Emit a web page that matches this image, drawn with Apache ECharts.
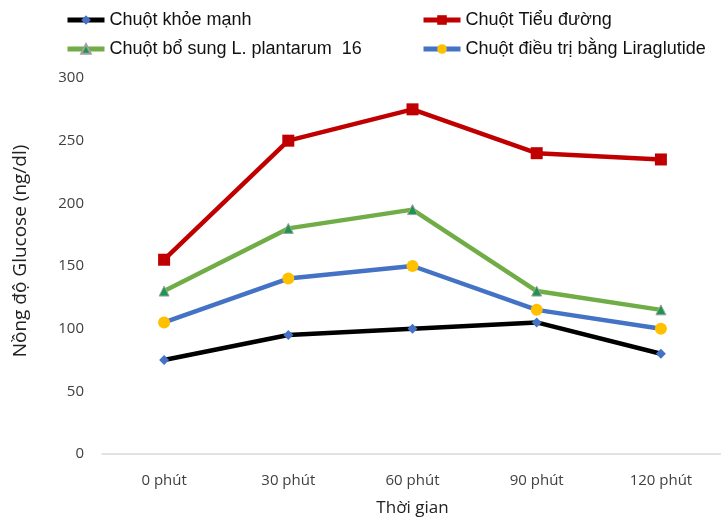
<!DOCTYPE html>
<html><head><meta charset="utf-8">
<script src="https://cdn.jsdelivr.net/npm/echarts@6/dist/echarts.min.js"></script>
<style>html,body{margin:0;padding:0;background:#fff}#c{width:721px;height:520px}</style>
</head><body><div id="c"></div>
<script>
const categories = ['0 phút', '30 phút', '60 phút', '90 phút', '120 phút'];
const healthy = [75, 95, 100, 105, 80];
const diabetic = [155, 250, 275, 240, 235];
const plantarum = [130, 180, 195, 130, 115];
const liraglutide = [105, 140, 150, 115, 100];
const yTicks = [0, 50, 100, 150, 200, 250, 300];
const names = ['Chuột khỏe mạnh', 'Chuột Tiểu đường', 'Chuột bổ sung L. plantarum  16', 'Chuột điều trị bằng Liraglutide'];

const chart = echarts.init(document.getElementById('c'));
const legendText = {fontFamily: 'Liberation Sans, Arial', fontSize: 18, color: '#111'};
function lg(name, left, top) {
  return {data: [name], left: left, top: top, itemWidth: 37, itemHeight: 12, itemGap: 0,
    textStyle: legendText, padding: 0, lineStyle: {width: 5}};
}
chart.setOption({
  animation: false,
  legend: [lg(names[0], 65, 11), lg(names[1], 421, 11), lg(names[2], 65, 40), lg(names[3], 421, 40)],
  grid: {left: 102, right: -2, top: 78, bottom: 66, outerBoundsMode: 'none', containLabel: false},
  xAxis: {
    type: 'category', data: categories, boundaryGap: true,
    axisLine: {lineStyle: {color: '#d9d9d9', width: 1.5}},
    axisTick: {show: false},
    axisLabel: {fontFamily: 'Open Sans, Liberation Sans', fontSize: 15, color: '#404040', margin: 19},
    name: 'Thời gian', nameLocation: 'middle', nameGap: 46,
    nameTextStyle: {fontFamily: 'Open Sans, Liberation Sans', fontSize: 17, color: '#222'}
  },
  yAxis: {
    type: 'value', min: yTicks[0], max: yTicks[yTicks.length - 1], interval: 50,
    axisLine: {show: false}, axisTick: {show: false}, splitLine: {show: false},
    axisLabel: {fontFamily: 'Open Sans, Liberation Sans', fontSize: 15, color: '#404040', margin: 18},
    name: 'Nồng độ Glucose (ng/dl)', nameLocation: 'middle', nameGap: 72,
    nameTextStyle: {fontFamily: 'Open Sans, Liberation Sans', fontSize: 19, color: '#222', padding: [0, 0, 0, 30]}
  },
  series: [
    {name: names[0], type: 'line', data: healthy, symbol: 'diamond', symbolSize: 10,
      lineStyle: {color: '#000', width: 4.5}, itemStyle: {color: '#4472c4', borderWidth: 0}, color: '#000'},
    {name: names[1], type: 'line', data: diabetic, symbol: 'rect', symbolSize: 12,
      lineStyle: {color: '#c00000', width: 4.5}, itemStyle: {color: '#c00000', borderWidth: 0}},
    {name: names[2], type: 'line', data: plantarum, symbol: 'triangle', symbolSize: 10,
      lineStyle: {color: '#70ad47', width: 4.5}, itemStyle: {color: '#1a9650', borderColor: '#a0a0a0', borderWidth: 1}},
    {name: names[3], type: 'line', data: liraglutide, symbol: 'circle', symbolSize: 12,
      lineStyle: {color: '#4472c4', width: 4.5}, itemStyle: {color: '#ffc000', borderWidth: 0}}
  ]
});
</script></body></html>
